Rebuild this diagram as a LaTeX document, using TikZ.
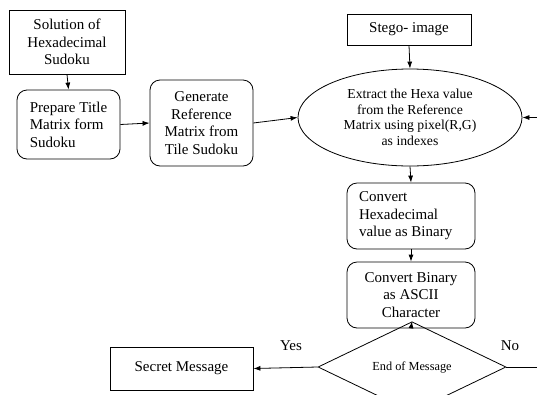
\documentclass[tikz,border=0pt]{standalone}
\usepackage{fontspec}
\setmainfont{Liberation Serif}
\usetikzlibrary{arrows.meta, shapes.geometric}

\tikzset{
  plainbox/.style={draw, rectangle, inner sep=2pt, align=center, font=\fontsize{15}{17.5}\selectfont},
  roundbox/.style={draw, rectangle, rounded corners=10pt, inner sep=2pt, font=\fontsize{15}{17.5}\selectfont},
  flow/.style={-{Latex[length=7pt, width=5pt]}}
}

\begin{document}
\begin{tikzpicture}[x=1pt, y=-1pt, line width=0.8pt]
        \useasboundingbox (0,0) rectangle (537,394);
        \node[plainbox, minimum width=116, minimum height=64] (sol) at (67,42) {Solution of\\Hexadecimal\\Sudoku};
        \node[roundbox, align=left, minimum width=103, minimum height=69] (prep) at (68.5,124.5) {Prepare Title\\Matrix form\\Sudoku};
        \node[roundbox, align=center, minimum width=103, minimum height=86] (gen) at (201.5,123) {Generate\\Reference\\Matrix from\\Tile Sudoku};
        \node[plainbox, minimum width=124, minimum height=31] (stego) at (409,29.5) {Stego- image};
        \node[draw, ellipse, inner sep=0pt, align=center, minimum width=224, minimum height=97,
              font=\fontsize{13.7}{15.5}\selectfont] (ext) at (410,117.5)
              {Extract the Hexa value\\from the Reference\\Matrix using pixel(R,G)\\as indexes};
        \node[roundbox, align=flush left, text width=104pt, minimum width=128, minimum height=66] (hex) at (411,216) {Convert\\Hexadecimal\\value as Binary};
        \node[roundbox, align=center, minimum width=128, minimum height=66] (bin) at (411,295) {Convert Binary\\as ASCII\\Character};
        \node[draw, diamond, inner sep=0pt, minimum width=188, minimum height=56,
              font=\fontsize{12.3}{14}\selectfont] (dec) at (412,367) {End of Message};
        \node[plainbox, minimum width=143, minimum height=43] (sec) at (181.5,368.5) {Secret Message};
        \node[font=\fontsize{15}{17.5}\selectfont] (yes) at (291,346) {Yes};
        \node[font=\fontsize{15}{17.5}\selectfont] (no) at (510,346) {No};
        \coordinate (loopin) at (537,117.5);
        \coordinate (loopout) at (537,367);

        \draw[flow] (sol.south) -- (prep.north);
        \draw[flow] (prep.east) -- (gen.west);
        \draw[flow] (gen.east) -- (ext.west);
        \draw[flow] (stego.south) -- (ext.north);
        \draw[flow] (loopin) -- (ext.east);
        \draw[flow] (ext.south) -- (hex.north);
        \draw[flow] (hex.south) -- (bin.north);
        \draw[flow] (bin.south) -- (dec.north);
        \draw[flow] (dec.west) -- (sec.east);
        \draw (dec.east) -- (loopout);
    \end{tikzpicture}
\end{document}
